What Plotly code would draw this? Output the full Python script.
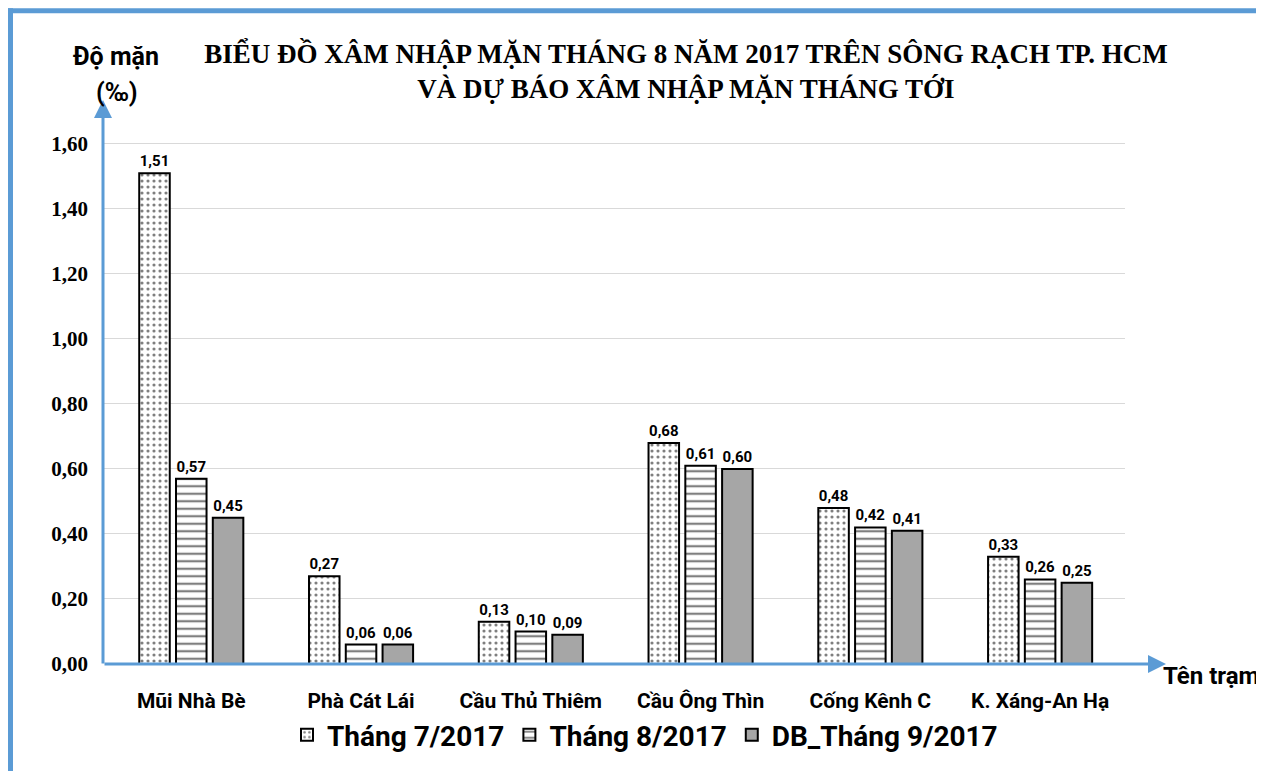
import plotly.graph_objects as go

categories = ["Mũi Nhà Bè", "Phà Cát Lái", "Cầu Thủ Thiêm", "Cầu Ông Thìn", "Cống Kênh C", "K. Xáng-An Hạ"]
series_names = ["Tháng 7/2017", "Tháng 8/2017", "DB_Tháng 9/2017"]
thang7 = [1.51, 0.27, 0.13, 0.68, 0.48, 0.33]
thang8 = [0.57, 0.06, 0.10, 0.61, 0.42, 0.26]
db_thang9 = [0.45, 0.06, 0.09, 0.60, 0.41, 0.25]
y_ticks = [0, 0.2, 0.4, 0.6, 0.8, 1.0, 1.2, 1.4, 1.6]
y_tick_labels = ["0,00", "0,20", "0,40", "0,60", "0,80", "1,00", "1,20", "1,40", "1,60"]

OFF = 8  # browser page margin
W, H = 1264 - OFF, 771 - OFF
# target page-pixel geometry of the plot area
P_LEFT, P_RIGHT, P_TOP, P_ZERO = 103, 1125, 100, 665
L, T = P_LEFT - OFF, P_TOP - OFF
R = W - (P_RIGHT - OFF)
B = H - (P_ZERO - OFF)
PW, PH = P_RIGHT - P_LEFT, P_ZERO - P_TOP
BLUE = "#5B9BD5"
SANS = "Roboto"
SERIF = "Liberation Serif"


def fmt(v):
    return f"{v:.2f}".replace(".", ",")


def px2x(px):
    return (px - P_LEFT) / PW


def px2y(py):
    return (P_ZERO - py) / PH


fig = go.Figure()
styles = [
    dict(color="white", pattern=dict(shape=".", fgcolor="black", bgcolor="white", size=6, solidity=0.22)),
    dict(color="white", pattern=dict(shape="-", fgcolor="black", bgcolor="white", size=7.5, solidity=0.3)),
    dict(color="#A6A6A6"),
]
for name, vals, st in zip(series_names, [thang7, thang8, db_thang9], styles):
    fig.add_trace(go.Bar(
        x=categories, y=vals, name=name,
        marker=dict(line=dict(color="black", width=2), **st),
        text=[fmt(v) for v in vals], textposition="outside",
        textfont=dict(family=SANS, size=15, color="black", weight="bold"),
        cliponaxis=False,
    ))

fig.update_layout(
    width=W, height=H,
    margin=dict(l=L, r=R, t=T, b=B),
    paper_bgcolor="white", plot_bgcolor="white",
    barmode="group", bargap=0.35, bargroupgap=0.17,
    title=dict(
        text="BIỂU ĐỒ XÂM NHẬP MẶN THÁNG 8 NĂM 2017 TRÊN SÔNG RẠCH TP. HCM<br>VÀ DỰ BÁO XÂM NHẬP MẶN THÁNG TỚI",
        x=(686 - OFF) / W, xanchor="center", y=1 - (63 - OFF) / H, yanchor="top",
        font=dict(family=SERIF, size=27, color="black", weight="bold"),
    ),
    showlegend=True,
    legend=dict(
        orientation="h", x=px2x(645), xanchor="center", y=px2y(735), yanchor="middle",
        font=dict(family=SANS, size=28, color="black", weight="bold"),
        bgcolor="rgba(0,0,0,0)",
    ),
    xaxis=dict(
        range=[-0.52, 5.5],
        showline=False, showgrid=False, ticks="",
        tickfont=dict(family=SANS, size=21, color="black", weight="bold"),
        ticklabelstandoff=22,
    ),
    yaxis=dict(
        range=[0, 1.6 * PH / (P_ZERO - 144)],
        tickvals=y_ticks, ticktext=y_tick_labels,
        showline=False, showgrid=True, gridcolor="#D9D9D9", gridwidth=1,
        zeroline=False, ticks="",
        tickfont=dict(family=SERIF, size=21, color="black", weight="bold"),
        ticklabelstandoff=14,
    ),
    shapes=[
        # picture frame
        dict(type="line", xref="paper", yref="paper", x0=px2x(8), x1=px2x(1270), y0=px2y(10.5), y1=px2y(10.5),
             line=dict(color=BLUE, width=5), layer="above"),
        dict(type="line", xref="paper", yref="paper", x0=px2x(10.5), x1=px2x(10.5), y0=px2y(8), y1=px2y(780),
             line=dict(color=BLUE, width=5), layer="above"),
    ],
    annotations=[
        # y axis arrow
        dict(xref="paper", yref="paper", x=0, y=1, ax=0, ay=PH, axref="pixel", ayref="pixel",
             showarrow=True, arrowhead=2, arrowsize=1.2, arrowwidth=3, arrowcolor=BLUE, text=""),
        # x axis arrow
        dict(xref="paper", yref="paper", x=px2x(1166), y=0, ax=-(1166 - P_LEFT), ay=0, axref="pixel", ayref="pixel",
             showarrow=True, arrowhead=2, arrowsize=1.2, arrowwidth=3, arrowcolor=BLUE, text=""),
        dict(xref="paper", yref="paper", x=px2x(116), y=px2y(56), xanchor="center", yanchor="middle",
             text="Độ mặn", showarrow=False, font=dict(family=SANS, size=25, color="black", weight="bold")),
        dict(xref="paper", yref="paper", x=px2x(117), y=px2y(92), xanchor="center", yanchor="middle",
             text="(‰)", showarrow=False, font=dict(family=SANS, size=25, color="black", weight="bold")),
        dict(xref="paper", yref="paper", x=px2x(1161), y=px2y(677), xanchor="left", yanchor="middle",
             text="Tên trạm", showarrow=False, font=dict(family=SANS, size=24, color="black", weight="bold")),
    ],
)

fig.write_html("out.html")
